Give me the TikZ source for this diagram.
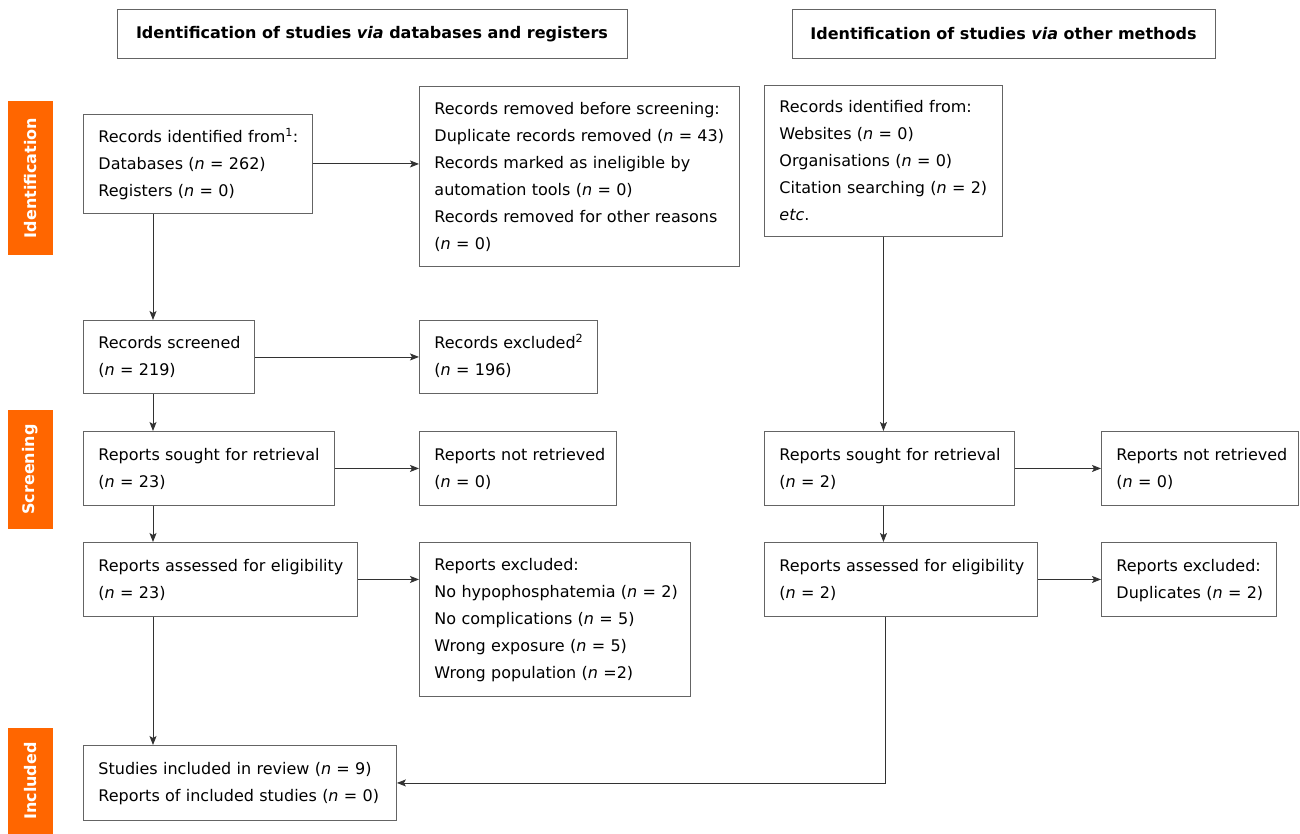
\documentclass[tikz,border=0pt]{standalone}
\usepackage{fontspec}
\setmainfont{DejaVu Sans}
\usetikzlibrary{arrows.meta}
\definecolor{prismaorange}{RGB}{255,102,0}
\definecolor{boxline}{RGB}{100,100,100}
\definecolor{arrline}{RGB}{50,50,50}
\newcommand{\boxlines}[1]{\begin{tabular}{@{}l@{}}#1\end{tabular}}

\begin{document}
\begin{tikzpicture}[x=1pt,y=-1pt,
    box/.style={draw=boxline, line width=0.9pt, anchor=north west, align=left,
      inner xsep=15pt, inner ysep=0pt, font=\fontsize{16}{27}\selectfont},
    header/.style={draw=boxline, line width=0.9pt, inner sep=0pt,
      minimum height=49pt, font=\fontsize{16}{20}\selectfont\bfseries},
    phase/.style={fill=prismaorange, text=white, rotate=90, inner sep=0pt,
      minimum height=45pt, font=\fontsize{16}{20}\selectfont\bfseries},
    arr/.style={draw=arrline, line width=0.9pt, -{Stealth[length=9pt,width=7pt,inset=2pt]}}]
    \useasboundingbox (0,0) rectangle (1300,834);
    \node[header, minimum width=510pt] (headl) at (372,34) {Identification of studies \textit{via} databases and registers};
    \node[header, minimum width=423pt] (headr) at (1003.5,34) {Identification of studies \textit{via} other methods};
    \node[phase, minimum width=154pt] (phident) at (30.5,178) {Identification};
    \node[phase, minimum width=119pt] (phscreen) at (30.5,469.5) {Screening};
    \node[phase, minimum width=106pt] (phincl) at (30.5,781) {Included};

    \node[box, text width=199pt, minimum height=99pt] (ident) at (83,114)
      {\boxlines{Records identified from\textsuperscript{1}:\\Databases (\textit{n} = 262)\\Registers (\textit{n} = 0)}};
    \node[box, text width=290pt, minimum height=180pt] (removed) at (419,86)
      {\boxlines{Records removed before screening:\\Duplicate records removed (\textit{n} = 43)\\Records marked as ineligible by\\automation tools (\textit{n} = 0)\\Records removed for other reasons\\(\textit{n} = 0)}};
    \node[box, text width=208pt, minimum height=151pt] (otherid) at (764,85)
      {\boxlines{Records identified from:\\Websites (\textit{n} = 0)\\Organisations (\textit{n} = 0)\\Citation searching (\textit{n} = 2)\\\textit{etc}.}};
    \node[box, text width=141pt, minimum height=73pt] (screened) at (83,320)
      {\boxlines{Records screened\\(\textit{n} = 219)}};
    \node[box, text width=148pt, minimum height=73pt] (excluded) at (419,320)
      {\boxlines{Records excluded\textsuperscript{2}\\(\textit{n} = 196)}};
    \node[box, text width=221pt, minimum height=74pt] (soughtl) at (83,431)
      {\boxlines{Reports sought for retrieval\\(\textit{n} = 23)}};
    \node[box, text width=167pt, minimum height=74pt] (notretl) at (419,431)
      {\boxlines{Reports not retrieved\\(\textit{n} = 0)}};
    \node[box, text width=220pt, minimum height=74pt] (soughtr) at (764,431)
      {\boxlines{Reports sought for retrieval\\(\textit{n} = 2)}};
    \node[box, text width=167pt, minimum height=74pt] (notretr) at (1101,431)
      {\boxlines{Reports not retrieved\\(\textit{n} = 0)}};
    \node[box, text width=244pt, minimum height=74pt] (assessl) at (83,542)
      {\boxlines{Reports assessed for eligibility\\(\textit{n} = 23)}};
    \node[box, text width=241pt, minimum height=154pt] (exclrepl) at (419,542)
      {\boxlines{Reports excluded:\\No hypophosphatemia (\textit{n} = 2)\\No complications (\textit{n} = 5)\\Wrong exposure (\textit{n} = 5)\\Wrong population (\textit{n} =2)}};
    \node[box, text width=243pt, minimum height=74pt] (assessr) at (764,542)
      {\boxlines{Reports assessed for eligibility\\(\textit{n} = 2)}};
    \node[box, text width=145pt, minimum height=74pt] (exclrepr) at (1101,542)
      {\boxlines{Reports excluded:\\Duplicates (\textit{n} = 2)}};
    \node[box, text width=283pt, minimum height=75pt] (included) at (83,745)
      {\boxlines{Studies included in review (\textit{n} = 9)\\Reports of included studies (\textit{n} = 0)}};

    \coordinate (lcol) at (153,0);
    \coordinate (rcol) at (885,0);
    \draw[arr] (ident.south -| lcol) -- (screened.north -| lcol);
    \draw[arr] (screened.south -| lcol) -- (soughtl.north -| lcol);
    \draw[arr] (soughtl.south -| lcol) -- (assessl.north -| lcol);
    \draw[arr] (assessl.south -| lcol) -- (included.north -| lcol);
    \draw[arr] (ident.east) -- (ident.east -| removed.west);
    \draw[arr] (screened.east) -- (screened.east -| excluded.west);
    \draw[arr] (soughtl.east) -- (soughtl.east -| notretl.west);
    \draw[arr] (assessl.east) -- (assessl.east -| exclrepl.west);
    \draw[arr] (otherid.south) -- (otherid.south |- soughtr.north);
    \draw[arr] (soughtr.south -| otherid.south) -- (assessr.north -| otherid.south);
    \draw[arr] (soughtr.east) -- (soughtr.east -| notretr.west);
    \draw[arr] (assessr.east) -- (assessr.east -| exclrepr.west);
    \draw[arr] (assessr.south -| rcol) |- (included.east);
\end{tikzpicture}
\end{document}
